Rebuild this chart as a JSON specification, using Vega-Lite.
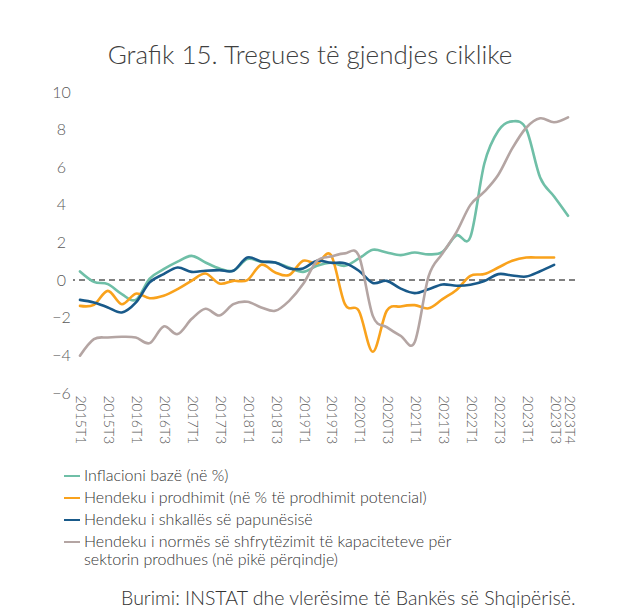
{
  "$schema": "https://vega.github.io/schema/vega-lite/v6.json",
  "width": 502,
  "height": 301,
  "autosize": {"type": "none"},
  "padding": {"left": 73, "top": 92, "right": 46, "bottom": 220},
  "background": "white",
  "title": {
    "text": "Grafik 15. Tregues të gjendjes ciklike",
    "font": "Lato",
    "fontWeight": 300,
    "fontSize": 26,
    "color": "#404040",
    "anchor": "middle",
    "dx": -14,
    "offset": 15
  },
  "config": {
    "view": {"stroke": null},
    "font": "Lato",
    "axisY": {
      "labelOverlap": false,
      "labelFont": "Lato",
      "labelFontWeight": 300,
      "labelFontSize": 16,
      "labelColor": "#595959",
      "labelAlign": "center",
      "labelPadding": 12,
      "ticks": false,
      "tickSize": 0,
      "domain": false,
      "grid": false
    }
  },
  "data": {
    "values": [
      {"q": "2015T1", "inf": 0.46, "gap": -1.37, "unemp": -1.05, "cap": -4.02},
      {"q": "2015T2", "inf": -0.09, "gap": -1.31, "unemp": -1.19, "cap": -3.14},
      {"q": "2015T3", "inf": -0.21, "gap": -0.57, "unemp": -1.45, "cap": -3.05},
      {"q": "2015T4", "inf": -0.74, "gap": -1.28, "unemp": -1.72, "cap": -3.01},
      {"q": "2016T1", "inf": -1.05, "gap": -0.72, "unemp": -1.2, "cap": -3.05},
      {"q": "2016T2", "inf": 0.08, "gap": -0.96, "unemp": -0.12, "cap": -3.35},
      {"q": "2016T3", "inf": 0.58, "gap": -0.83, "unemp": 0.32, "cap": -2.46},
      {"q": "2016T4", "inf": 0.98, "gap": -0.48, "unemp": 0.67, "cap": -2.87},
      {"q": "2017T1", "inf": 1.29, "gap": -0.04, "unemp": 0.44, "cap": -2.07},
      {"q": "2017T2", "inf": 0.94, "gap": 0.35, "unemp": 0.5, "cap": -1.52},
      {"q": "2017T3", "inf": 0.62, "gap": -0.18, "unemp": 0.53, "cap": -1.88},
      {"q": "2017T4", "inf": 0.5, "gap": -0.04, "unemp": 0.5, "cap": -1.28},
      {"q": "2018T1", "inf": 1.12, "gap": 0.0, "unemp": 1.2, "cap": -1.15},
      {"q": "2018T2", "inf": 0.97, "gap": 0.82, "unemp": 0.99, "cap": -1.45},
      {"q": "2018T3", "inf": 0.94, "gap": 0.41, "unemp": 0.94, "cap": -1.63},
      {"q": "2018T4", "inf": 0.67, "gap": 0.27, "unemp": 0.62, "cap": -1.1},
      {"q": "2019T1", "inf": 0.44, "gap": 1.03, "unemp": 0.62, "cap": -0.21},
      {"q": "2019T2", "inf": 0.76, "gap": 0.88, "unemp": 1.03, "cap": 1.03},
      {"q": "2019T3", "inf": 0.92, "gap": 1.33, "unemp": 0.92, "cap": 1.25},
      {"q": "2019T4", "inf": 0.76, "gap": -1.28, "unemp": 0.9, "cap": 1.42},
      {"q": "2020T1", "inf": 1.15, "gap": -1.63, "unemp": 0.5, "cap": 1.29},
      {"q": "2020T2", "inf": 1.61, "gap": -3.81, "unemp": -0.15, "cap": -1.9},
      {"q": "2020T3", "inf": 1.47, "gap": -1.63, "unemp": -0.04, "cap": -2.5},
      {"q": "2020T4", "inf": 1.33, "gap": -1.4, "unemp": -0.45, "cap": -2.96},
      {"q": "2021T1", "inf": 1.47, "gap": -1.33, "unemp": -0.69, "cap": -3.3},
      {"q": "2021T2", "inf": 1.37, "gap": -1.5, "unemp": -0.48, "cap": 0.2},
      {"q": "2021T3", "inf": 1.5, "gap": -1.01, "unemp": -0.23, "cap": 1.42},
      {"q": "2021T4", "inf": 2.38, "gap": -0.52, "unemp": -0.3, "cap": 2.55},
      {"q": "2022T1", "inf": 2.3, "gap": 0.23, "unemp": -0.25, "cap": 4.0},
      {"q": "2022T2", "inf": 6.2, "gap": 0.32, "unemp": -0.05, "cap": 4.7},
      {"q": "2022T3", "inf": 7.94, "gap": 0.67, "unemp": 0.32, "cap": 5.6},
      {"q": "2022T4", "inf": 8.44, "gap": 1.03, "unemp": 0.25, "cap": 7.0},
      {"q": "2023T1", "inf": 8.03, "gap": 1.2, "unemp": 0.19, "cap": 8.1},
      {"q": "2023T2", "inf": 5.46, "gap": 1.2, "unemp": 0.47, "cap": 8.6},
      {"q": "2023T3", "inf": 4.45, "gap": 1.2, "unemp": 0.81, "cap": 8.39},
      {"q": "2023T4", "inf": 3.42, "gap": null, "unemp": null, "cap": 8.65}
    ]
  },
  "layer": [
    {
      "mark": {"type": "rule", "stroke": "#808080", "strokeWidth": 1, "strokeDash": [6, 4]},
      "encoding": {
        "y": {
          "datum": 0,
          "type": "quantitative",
          "scale": {"domain": [-6, 10], "nice": false, "zero": false},
          "axis": {"values": [-6, -4, -2, 0, 2, 4, 6, 8, 10], "title": null, "labelOverlap": false}
        }
      }
    },
    {
      "transform": [
        {"fold": ["inf", "gap", "unemp", "cap"], "as": ["series", "value"]},
        {"filter": "datum.value != null"}
      ],
      "mark": {"type": "line", "interpolate": "cardinal", "strokeWidth": 2.6, "strokeCap": "round"},
      "encoding": {
        "x": {
          "field": "q",
          "type": "ordinal",
          "scale": {"type": "point", "padding": 0.5},
          "axis": {
            "values": ["2015T1", "2015T3", "2016T1", "2016T3", "2017T1", "2017T3", "2018T1", "2018T3", "2019T1", "2019T3", "2020T1", "2020T3", "2021T1", "2021T3", "2022T1", "2022T3", "2023T1", "2023T3", "2023T4"],
            "labelAngle": 90,
            "labelFont": "Lato",
            "labelFontWeight": 300,
            "labelFontSize": 14,
            "labelColor": "#595959",
            "labelPadding": 2,
            "labelOverlap": false,
            "ticks": false,
            "tickSize": 0,
            "domain": false,
            "grid": false,
            "title": "Burimi: INSTAT dhe vlerësime të Bankës së Shqipërisë.",
            "titleFont": "Lato",
            "titleFontWeight": 300,
            "titleFontSize": 19.5,
            "titleColor": "#333333",
            "titleX": 502,
            "titleY": 205,
            "titleAlign": "right",
            "titleAnchor": "end",
            "titleBaseline": "middle"
          }
        },
        "y": {
          "field": "value",
          "type": "quantitative",
          "scale": {"domain": [-6, 10], "nice": false, "zero": false},
          "axis": {"values": [-6, -4, -2, 0, 2, 4, 6, 8, 10], "title": null, "labelOverlap": false}
        },
        "color": {
          "field": "series",
          "type": "nominal",
          "scale": {
            "domain": ["inf", "gap", "unemp", "cap"],
            "range": ["#6fbfa7", "#f9a21c", "#195a8a", "#b4a5a3"]
          },
          "legend": {
            "orient": "none",
            "legendX": -10,
            "legendY": 375,
            "direction": "vertical",
            "title": null,
            "symbolType": "stroke",
            "symbolSize": 256,
            "symbolStrokeWidth": 2,
            "labelFont": "Lato",
            "labelFontWeight": 300,
            "labelFontSize": 16,
            "labelColor": "#333333",
            "labelOffset": 3,
            "labelLimit": 1000,
            "rowPadding": 5,
            "labelExpr": "datum.value == 'inf' ? 'Inflacioni bazë (në %)' : datum.value == 'gap' ? 'Hendeku i prodhimit (në % të prodhimit potencial)' : datum.value == 'unemp' ? 'Hendeku i shkallës së papunësisë' : ['Hendeku i normës së shfrytëzimit të kapaciteteve për', 'sektorin prodhues (në pikë përqindje)']"
          }
        }
      }
    }
  ]
}
